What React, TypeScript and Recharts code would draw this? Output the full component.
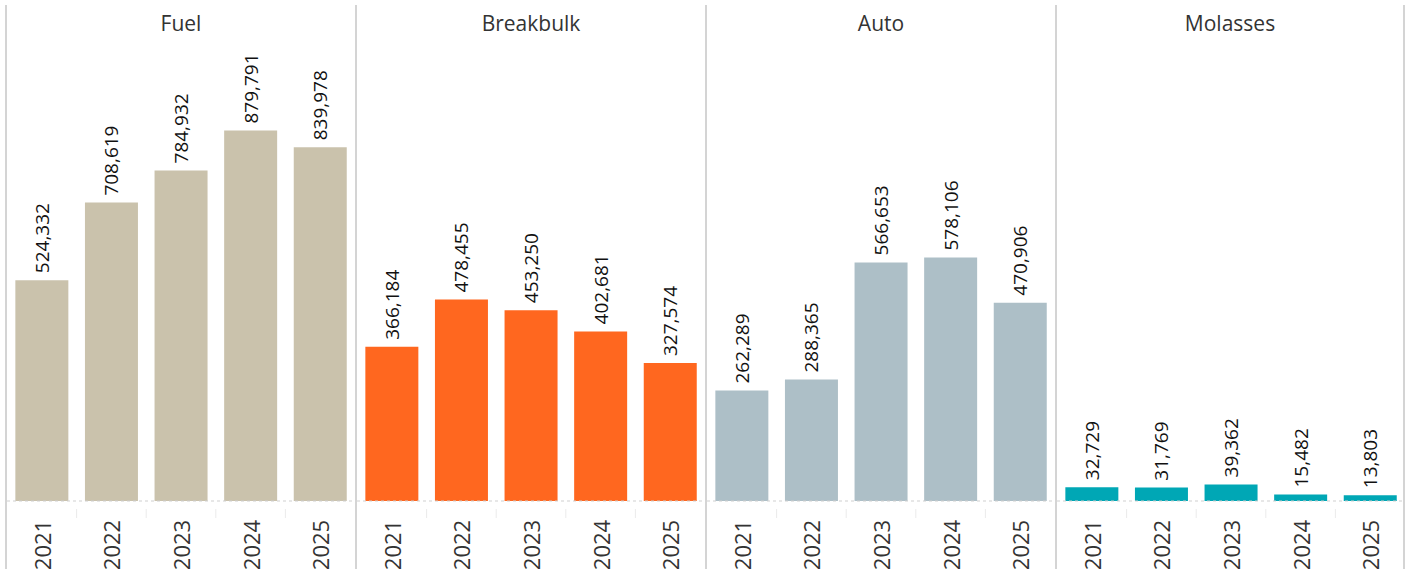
import React from "react";
import { BarChart, Bar, XAxis, YAxis, LabelList } from "recharts";

const years = ["2021", "2022", "2023", "2024", "2025"];
const cargoTypes = ["Fuel", "Breakbulk", "Auto", "Molasses"];
const fuel = [524332, 708619, 784932, 879791, 839978];
const breakbulk = [366184, 478455, 453250, 402681, 327574];
const auto = [262289, 288365, 566653, 578106, 470906];
const molasses = [32729, 31769, 39362, 15482, 13803];
const colors = ["#CAC2AC", "#FF671F", "#ADBFC7", "#00A7B5"];

const seriesList = [fuel, breakbulk, auto, molasses];

const PANEL_W = 350;
const CHART_W = 348;
const BAND = CHART_W / years.length;
const FONT = "'Open Sans', 'Liberation Sans', Arial, sans-serif";

const ValueLabel = (props: any) => {
  const { x, y, width, value } = props;
  const cx = x + width / 2;
  const cy = y - 7;
  return (
    <text
      x={cx}
      y={cy}
      transform={`rotate(-90, ${cx}, ${cy})`}
      textAnchor="start"
      dominantBaseline="central"
      fontSize={19}
      fontFamily={FONT}
      fill="#111"
    >
      {Number(value).toLocaleString("en-US")}
    </text>
  );
};

const YearTick = (props: any) => {
  const { x, y, payload, index } = props;
  const ty = y + 36;
  return (
    <g>
      {index > 0 && (
        <line x1={x - BAND / 2} x2={x - BAND / 2} y1={y} y2={y + 9} stroke="#ebebeb" />
      )}
      <text
        x={x}
        y={ty}
        transform={`rotate(-90, ${x}, ${ty})`}
        textAnchor="middle"
        dominantBaseline="central"
        fontSize={22}
        fontFamily={FONT}
        fill="#333"
      >
        {payload.value}
      </text>
    </g>
  );
};

const Panel = ({ name, values, color, last }: any) => {
  const data = years.map((year, i) => ({ year, value: values[i] }));
  return (
    <div
      style={{
        width: PANEL_W,
        boxSizing: "border-box",
        borderLeft: "2px solid #d4d4d4",
        borderRight: last ? "2px solid #d4d4d4" : undefined,
      }}
    >
      <div
        style={{
          height: 37,
          lineHeight: "36px",
          textAlign: "center",
          fontSize: 21,
          fontFamily: FONT,
          color: "#333",
        }}
      >
        {name}
      </div>
      <BarChart
        width={CHART_W}
        height={527}
        data={data}
        margin={{ top: 0, right: 0, left: 0, bottom: 0 }}
        barCategoryGap="12%"
      >
        <YAxis hide domain={[0, 1090000]} />
        <XAxis
          dataKey="year"
          height={68}
          interval={0}
          tickLine={false}
          axisLine={{ stroke: "#cfcfcf", strokeDasharray: "3 3" }}
          tick={<YearTick />}
        />
        <Bar dataKey="value" fill={color} isAnimationActive={false}>
          <LabelList dataKey="value" content={<ValueLabel />} />
        </Bar>
      </BarChart>
    </div>
  );
};

export default function App() {
  return (
    <div
      style={{
        position: "fixed",
        left: 5,
        top: 5,
        width: 1408,
        height: 564,
        display: "flex",
        background: "#fff",
      }}
    >
      {cargoTypes.map((name, i) => (
        <Panel
          key={name}
          name={name}
          values={seriesList[i]}
          color={colors[i]}
          last={i === cargoTypes.length - 1}
        />
      ))}
    </div>
  );
}
